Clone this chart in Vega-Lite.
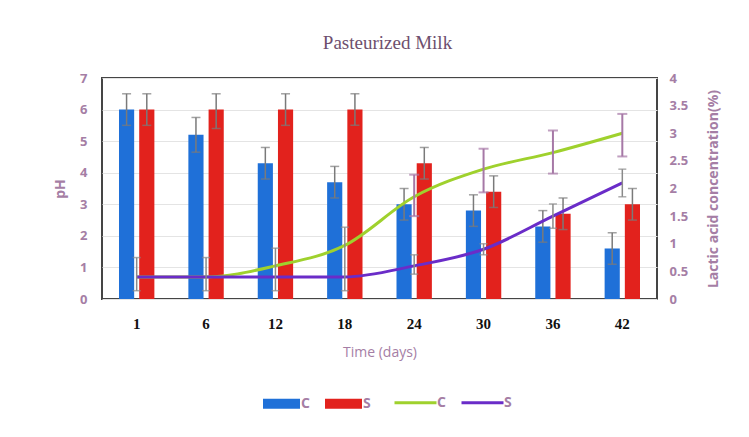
{
  "$schema": "https://vega.github.io/schema/vega-lite/v6.json",
  "width": 555,
  "height": 221,
  "autosize": {"type": "none"},
  "padding": {"left": 102, "top": 78, "right": 92, "bottom": 138},
  "background": "white",
  "title": {"text": "Pasteurized Milk", "font": "Liberation Serif", "fontSize": 19, "fontWeight": "normal", "color": "#6e4f6e", "offset": 19, "dx": 8},
  "data": {"values": [
    {"day": 1, "group": "C", "series": "C lactic", "pH": 6.0, "pHlo": 5.5, "pHhi": 6.5, "lac": 0.4, "laclo": null, "lachi": null},
    {"day": 1, "group": "S", "series": "S lactic", "pH": 6.0, "pHlo": 5.5, "pHhi": 6.5, "lac": 0.4, "laclo": 0.15, "lachi": 0.75},
    {"day": 6, "group": "C", "series": "C lactic", "pH": 5.2, "pHlo": 4.65, "pHhi": 5.75, "lac": 0.4, "laclo": null, "lachi": null},
    {"day": 6, "group": "S", "series": "S lactic", "pH": 6.0, "pHlo": 5.4, "pHhi": 6.5, "lac": 0.4, "laclo": 0.15, "lachi": 0.75},
    {"day": 12, "group": "C", "series": "C lactic", "pH": 4.3, "pHlo": 3.8, "pHhi": 4.8, "lac": 0.6, "laclo": null, "lachi": null},
    {"day": 12, "group": "S", "series": "S lactic", "pH": 6.0, "pHlo": 5.5, "pHhi": 6.5, "lac": 0.4, "laclo": 0.15, "lachi": 0.92},
    {"day": 18, "group": "C", "series": "C lactic", "pH": 3.7, "pHlo": 3.2, "pHhi": 4.2, "lac": 0.97, "laclo": null, "lachi": null},
    {"day": 18, "group": "S", "series": "S lactic", "pH": 6.0, "pHlo": 5.5, "pHhi": 6.5, "lac": 0.4, "laclo": 0.15, "lachi": 1.3},
    {"day": 24, "group": "C", "series": "C lactic", "pH": 3.0, "pHlo": 2.5, "pHhi": 3.5, "lac": 1.85, "laclo": 1.5, "lachi": 2.25},
    {"day": 24, "group": "S", "series": "S lactic", "pH": 4.3, "pHlo": 3.8, "pHhi": 4.8, "lac": 0.6, "laclo": 0.45, "lachi": 0.8},
    {"day": 30, "group": "C", "series": "C lactic", "pH": 2.8, "pHlo": 2.3, "pHhi": 3.3, "lac": 2.35, "laclo": 1.93, "lachi": 2.72},
    {"day": 30, "group": "S", "series": "S lactic", "pH": 3.4, "pHlo": 2.9, "pHhi": 3.9, "lac": 0.9, "laclo": 0.8, "lachi": 1.0},
    {"day": 36, "group": "C", "series": "C lactic", "pH": 2.3, "pHlo": 1.8, "pHhi": 2.8, "lac": 2.65, "laclo": 2.27, "lachi": 3.05},
    {"day": 36, "group": "S", "series": "S lactic", "pH": 2.7, "pHlo": 2.2, "pHhi": 3.2, "lac": 1.5, "laclo": 1.28, "lachi": 1.72},
    {"day": 42, "group": "C", "series": "C lactic", "pH": 1.6, "pHlo": 1.1, "pHhi": 2.1, "lac": 3.0, "laclo": 2.58, "lachi": 3.35},
    {"day": 42, "group": "S", "series": "S lactic", "pH": 3.0, "pHlo": 2.5, "pHhi": 3.5, "lac": 2.1, "laclo": 1.85, "lachi": 2.35}
  ]},
  "encoding": {
    "x": {
      "field": "day", "type": "ordinal", "sort": null,
      "scale": {"paddingInner": 0.49, "paddingOuter": 0.245},
      "axis": {"title": "Time (days)", "labelAngle": 0, "labelFont": "Liberation Serif", "labelFontSize": 15, "labelFontWeight": "bold", "labelColor": "#111111", "labelPadding": 17, "titleFont": "Open Sans", "titleFontSize": 14, "titleFontWeight": "normal", "titlePadding": 14, "grid": false}
    }
  },
  "layer": [
    {
      "layer": [
        {
          "mark": {"type": "bar"},
          "encoding": {
            "xOffset": {"field": "group", "scale": {"paddingInner": 0.25, "paddingOuter": 0}},
            "y": {"field": "pH", "type": "quantitative", "title": "pH", "scale": {"domain": [0, 7]},
              "axis": {"orient": "left", "values": [0, 1, 2, 3, 4, 5, 6, 7], "grid": true, "labelPadding": 15, "titlePadding": 12, "labelFontSize": 13, "titleFontSize": 14}},
            "fill": {"field": "group", "type": "nominal", "scale": {"domain": ["C", "S"], "range": ["#1f70d8", "#e2221d"]},
              "legend": {"orient": "none", "legendX": 161, "legendY": 307, "direction": "horizontal", "title": null, "symbolType": "M-1,-0.27H1V0.27H-1Z", "symbolSize": 1369, "symbolStrokeWidth": 0, "labelOffset": 1, "columnPadding": 15}}
          }
        },
        {
          "mark": {"type": "rule", "color": "#7a7a7a", "strokeWidth": 1.5},
          "encoding": {
            "xOffset": {"field": "group"},
            "y": {"field": "pHlo", "type": "quantitative", "title": "pH",
              "axis": {"orient": "left", "values": [0, 1, 2, 3, 4, 5, 6, 7], "grid": true, "labelPadding": 15, "titlePadding": 12, "labelFontSize": 13, "titleFontSize": 14}},
            "y2": {"field": "pHhi"}
          }
        },
        {
          "mark": {"type": "tick", "color": "#7a7a7a", "thickness": 1.5, "size": 9},
          "encoding": {
            "xOffset": {"field": "group"},
            "y": {"field": "pHhi", "type": "quantitative", "title": "pH",
              "axis": {"orient": "left", "values": [0, 1, 2, 3, 4, 5, 6, 7], "grid": true, "labelPadding": 15, "titlePadding": 12, "labelFontSize": 13, "titleFontSize": 14}}
          }
        },
        {
          "mark": {"type": "tick", "color": "#7a7a7a", "thickness": 1.5, "size": 9},
          "encoding": {
            "xOffset": {"field": "group"},
            "y": {"field": "pHlo", "type": "quantitative", "title": "pH",
              "axis": {"orient": "left", "values": [0, 1, 2, 3, 4, 5, 6, 7], "grid": true, "labelPadding": 15, "titlePadding": 12, "labelFontSize": 13, "titleFontSize": 14}}
          }
        }
      ]
    },
    {
      "layer": [
        {
          "mark": {"type": "line", "interpolate": "monotone", "strokeWidth": 3},
          "encoding": {
            "y": {"field": "lac", "type": "quantitative", "title": "Lactic acid concentration(%)", "scale": {"domain": [0, 4]},
              "axis": {"orient": "right", "values": [0, 0.5, 1, 1.5, 2, 2.5, 3, 3.5, 4], "format": "~g", "grid": false, "labelPadding": 12, "titlePadding": 19, "titleAngle": 270, "titleBaseline": "top", "labelFontSize": 13, "titleFontSize": 14}},
            "stroke": {"field": "series", "type": "nominal", "scale": {"domain": ["C lactic", "S lactic"], "range": ["#9fd12d", "#6a2cc8"]},
              "legend": {"orient": "none", "legendX": 291, "legendY": 302, "direction": "horizontal", "title": null, "symbolType": "stroke", "symbolSize": 1764, "symbolStrokeWidth": 3, "labelOffset": -1, "columnPadding": 9, "labelExpr": "substring(datum.label, 0, 1)"}}
          }
        },
        {
          "transform": [{"filter": "datum.group == 'C' && isValid(datum.laclo)"}],
          "mark": {"type": "rule", "color": "#a678a6", "strokeWidth": 2},
          "encoding": {
            "y": {"field": "laclo", "type": "quantitative", "title": "Lactic acid concentration(%)",
              "axis": {"orient": "right", "values": [0, 0.5, 1, 1.5, 2, 2.5, 3, 3.5, 4], "format": "~g", "grid": false, "labelPadding": 12, "titlePadding": 19, "titleAngle": 270, "titleBaseline": "top", "labelFontSize": 13, "titleFontSize": 14}},
            "y2": {"field": "lachi"}
          }
        },
        {
          "transform": [{"filter": "datum.group == 'C' && isValid(datum.laclo)"}],
          "mark": {"type": "tick", "color": "#a678a6", "thickness": 2, "size": 10},
          "encoding": {"y": {"field": "laclo", "type": "quantitative", "title": "Lactic acid concentration(%)",
              "axis": {"orient": "right", "values": [0, 0.5, 1, 1.5, 2, 2.5, 3, 3.5, 4], "format": "~g", "grid": false, "labelPadding": 12, "titlePadding": 19, "titleAngle": 270, "titleBaseline": "top", "labelFontSize": 13, "titleFontSize": 14}}}
        },
        {
          "transform": [{"filter": "datum.group == 'C' && isValid(datum.laclo)"}],
          "mark": {"type": "tick", "color": "#a678a6", "thickness": 2, "size": 10},
          "encoding": {"y": {"field": "lachi", "type": "quantitative", "title": "Lactic acid concentration(%)",
              "axis": {"orient": "right", "values": [0, 0.5, 1, 1.5, 2, 2.5, 3, 3.5, 4], "format": "~g", "grid": false, "labelPadding": 12, "titlePadding": 19, "titleAngle": 270, "titleBaseline": "top", "labelFontSize": 13, "titleFontSize": 14}}}
        },
        {
          "transform": [{"filter": "datum.group == 'S' && isValid(datum.laclo)"}],
          "mark": {"type": "rule", "color": "#8a8a8a", "strokeWidth": 1.5},
          "encoding": {
            "y": {"field": "laclo", "type": "quantitative", "title": "Lactic acid concentration(%)",
              "axis": {"orient": "right", "values": [0, 0.5, 1, 1.5, 2, 2.5, 3, 3.5, 4], "format": "~g", "grid": false, "labelPadding": 12, "titlePadding": 19, "titleAngle": 270, "titleBaseline": "top", "labelFontSize": 13, "titleFontSize": 14}},
            "y2": {"field": "lachi"}
          }
        },
        {
          "transform": [{"filter": "datum.group == 'S' && isValid(datum.laclo)"}],
          "mark": {"type": "tick", "color": "#8a8a8a", "thickness": 1.5, "size": 8},
          "encoding": {"y": {"field": "laclo", "type": "quantitative", "title": "Lactic acid concentration(%)",
              "axis": {"orient": "right", "values": [0, 0.5, 1, 1.5, 2, 2.5, 3, 3.5, 4], "format": "~g", "grid": false, "labelPadding": 12, "titlePadding": 19, "titleAngle": 270, "titleBaseline": "top", "labelFontSize": 13, "titleFontSize": 14}}}
        },
        {
          "transform": [{"filter": "datum.group == 'S' && isValid(datum.laclo)"}],
          "mark": {"type": "tick", "color": "#8a8a8a", "thickness": 1.5, "size": 8},
          "encoding": {"y": {"field": "lachi", "type": "quantitative", "title": "Lactic acid concentration(%)",
              "axis": {"orient": "right", "values": [0, 0.5, 1, 1.5, 2, 2.5, 3, 3.5, 4], "format": "~g", "grid": false, "labelPadding": 12, "titlePadding": 19, "titleAngle": 270, "titleBaseline": "top", "labelFontSize": 13, "titleFontSize": 14}}}
        }
      ]
    }
  ],
  "resolve": {"scale": {"y": "independent"}},
  "config": {
    "view": {"stroke": "#454545", "strokeWidth": 2},
    "axis": {"domain": false, "ticks": false, "labelColor": "#a57ea5", "titleColor": "#a57ea5", "labelFont": "Open Sans", "titleFont": "Open Sans", "labelFontWeight": "bold", "titleFontWeight": "bold", "gridColor": "#e4e4e4"},
    "legend": {"labelColor": "#a57ea5", "labelFont": "Open Sans", "labelFontWeight": "bold", "labelFontSize": 14, "padding": 0, "offset": 0}
  }
}
